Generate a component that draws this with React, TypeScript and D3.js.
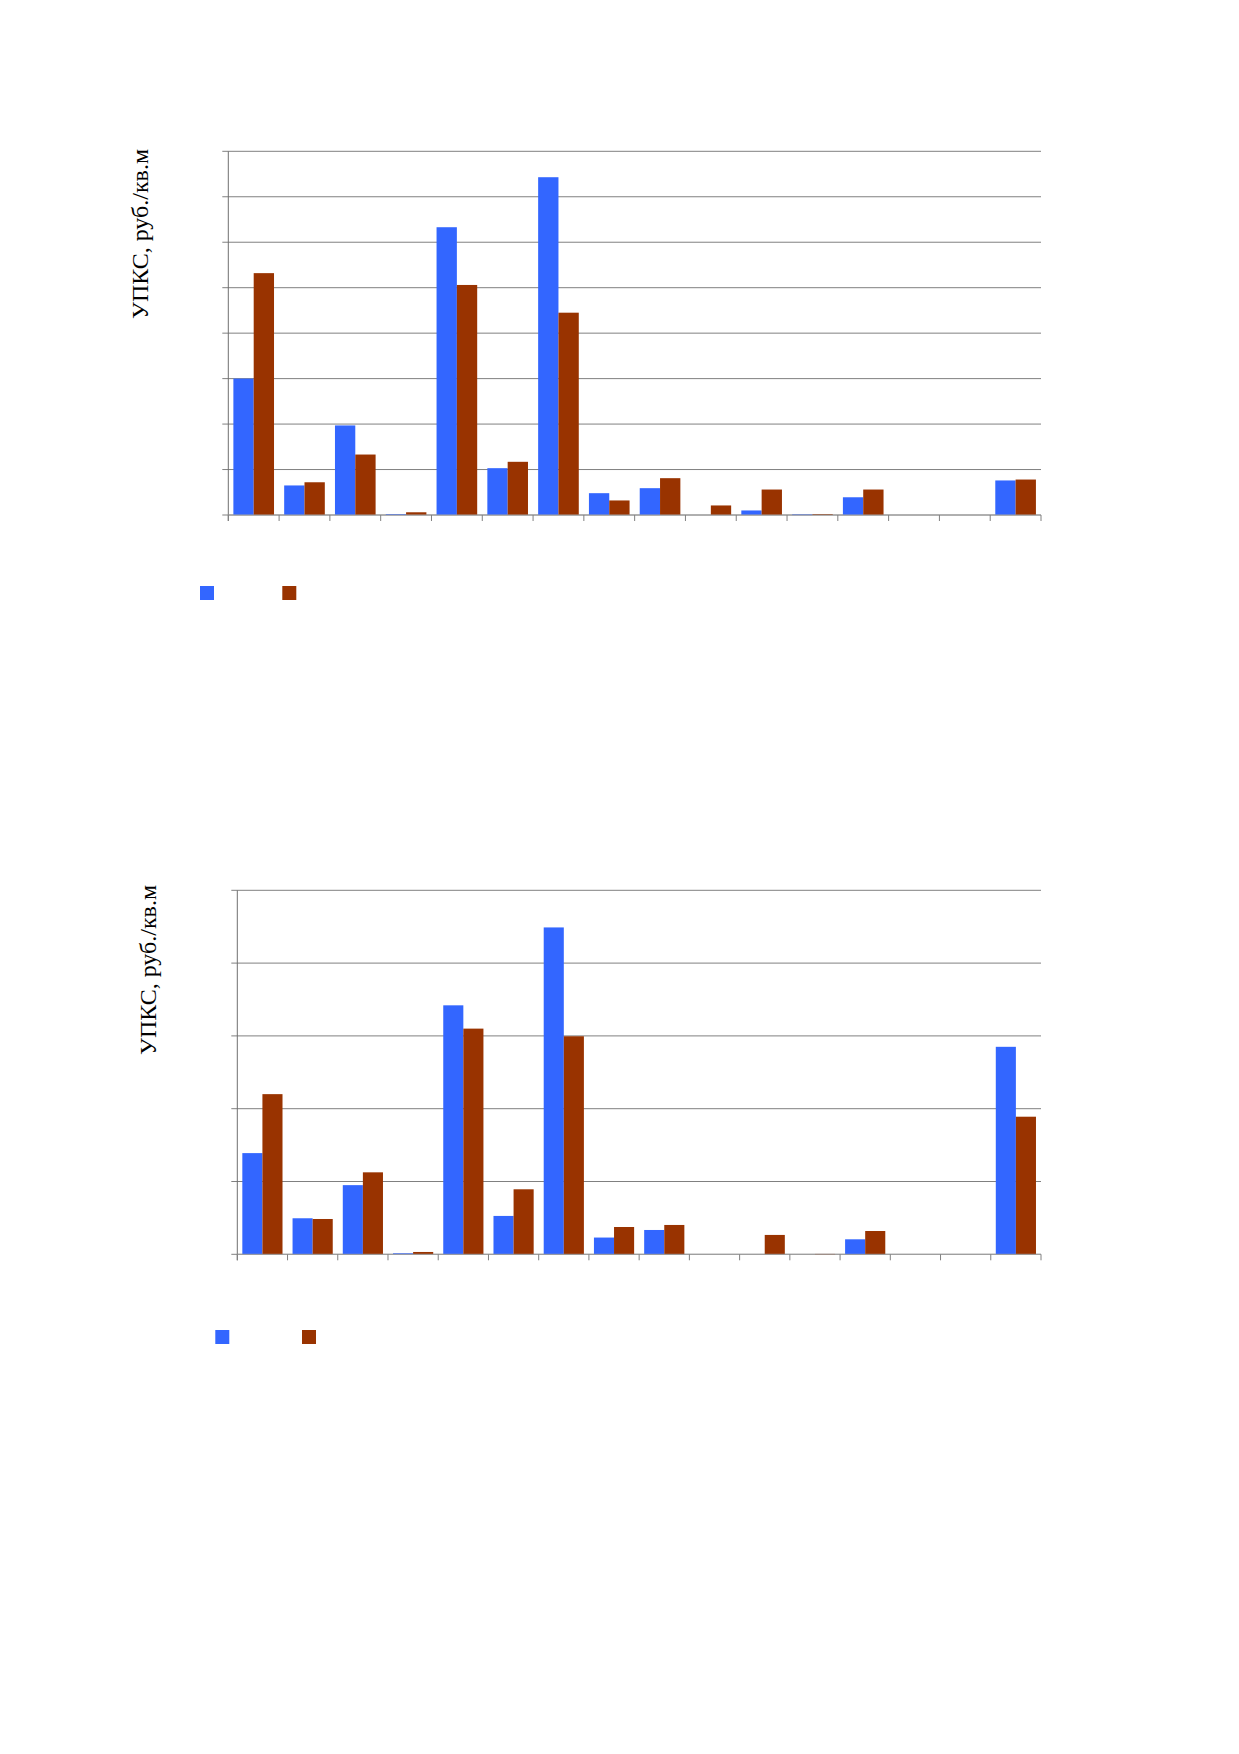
import * as d3 from "d3";

// 16 categories, no labels shown in the source
const categories = d3.range(1, 17).map(String);
const seriesNames = ["A", "B"];
const colors = ["#3366FF", "#993300"];

// top chart, in gridline units (8 intervals)
const topBlue = [30.0, 6.5, 19.7, 0.2, 63.3, 10.3, 74.3, 4.8, 5.9, 0, 1.0, 0.15, 3.9, 0, 0, 7.6];
const topBrown = [53.2, 7.2, 13.3, 0.6, 50.6, 11.7, 44.5, 3.2, 8.1, 2.1, 5.6, 0.2, 5.6, 0, 0, 7.8];
const topTicks = d3.range(0, 90, 10);

// bottom chart (5 intervals)
const botBlue = [1.39, 0.495, 0.95, 0.014, 3.42, 0.527, 4.49, 0.23, 0.334, 0, 0, 0, 0.206, 0, 0, 2.85];
const botBrown = [2.2, 0.485, 1.126, 0.032, 3.1, 0.893, 2.995, 0.375, 0.403, 0, 0.266, 0.005, 0.32, 0, 0, 1.89];
const botTicks = d3.range(0, 6, 1);

const yLabel = "УПКС, руб./кв.м";

interface ChartProps {
  left: number;
  right: number;
  top: number;
  bottom: number;
  ticks: number[];
  series: number[][];
  labelX: number;
  labelY: number;
  legendX: number[];
  legendY: number;
}

function Chart({ left, right, top, bottom, ticks, series, labelX, labelY, legendX, legendY }: ChartProps) {
  const x = d3.scaleBand<string>().domain(categories).range([left, right]).paddingInner(0.2).paddingOuter(0.1);
  const xSub = d3.scaleBand<number>().domain(d3.range(series.length)).range([0, x.bandwidth()]);
  const y = d3.scaleLinear().domain([0, ticks[ticks.length - 1]]).range([bottom, top]);
  const step = x.step();
  const bounds = d3.range(categories.length + 1).map((i) => left + i * step);

  return (
    <g>
      {/* gridlines + left ticks */}
      {ticks.map((t) => (
        <line key={t} x1={left - 6} x2={right} y1={y(t)} y2={y(t)} stroke="#808080" strokeWidth={1} />
      ))}
      {/* bars */}
      {categories.map((c, i) =>
        series.map((s, j) =>
          s[i] > 0 ? (
            <rect
              key={c + "-" + j}
              x={(x(c) ?? 0) + (xSub(j) ?? 0)}
              y={y(s[i])}
              width={xSub.bandwidth()}
              height={Math.max(0.8, bottom - y(s[i]))}
              fill={colors[j]}
            />
          ) : null
        )
      )}
      {/* axes */}
      <line x1={left} x2={left} y1={top} y2={bottom + 6} stroke="#707070" />
      <line x1={left} x2={right} y1={bottom} y2={bottom} stroke="#a0a0a0" />
      {bounds.map((b, i) => (
        <line key={i} x1={b} x2={b} y1={bottom} y2={bottom + 6} stroke="#808080" />
      ))}
      {/* y label */}
      <text
        transform={`translate(${labelX},${labelY}) rotate(-90)`}
        textAnchor="middle"
        fontFamily="'Liberation Serif', 'Times New Roman', serif"
        fontSize={24}
        fill="#000"
      >
        {yLabel}
      </text>
      {/* legend */}
      {seriesNames.map((n, j) => (
        <rect key={n} x={legendX[j]} y={legendY} width={14} height={14} fill={colors[j]} />
      ))}
    </g>
  );
}

export default function App() {
  return (
    <svg
      width={1239}
      height={1754}
      viewBox="0 0 1239 1754"
      style={{ position: "absolute", left: 0, top: 0, background: "#fff" }}
    >
      <rect width={1239} height={1754} fill="#fff" />
      <Chart
        left={228.3}
        right={1041}
        top={151.3}
        bottom={515}
        ticks={topTicks}
        series={[topBlue, topBrown]}
        labelX={148}
        labelY={234}
        legendX={[200, 282.3]}
        legendY={586}
      />
      <Chart
        left={237.3}
        right={1041}
        top={890.3}
        bottom={1254.3}
        ticks={botTicks}
        series={[botBlue, botBrown]}
        labelX={156}
        labelY={970}
        legendX={[215.3, 302]}
        legendY={1330}
      />
    </svg>
  );
}
